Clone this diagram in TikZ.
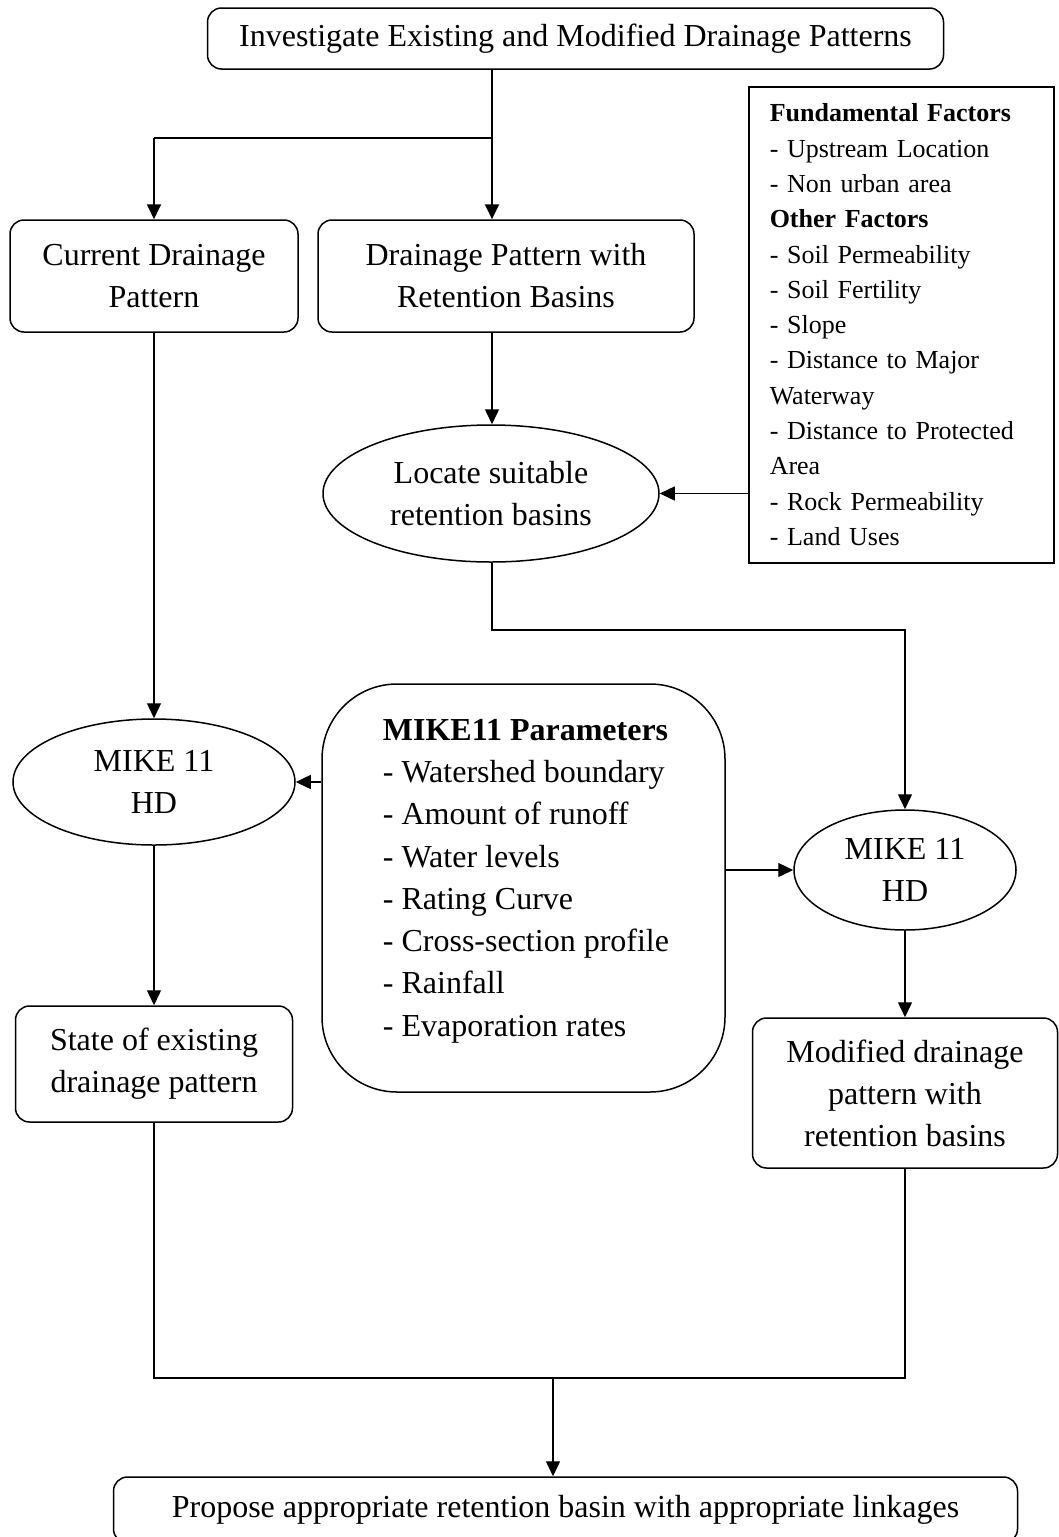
\documentclass[tikz,border=0pt]{standalone}
\usepackage{fontspec}
\setmainfont{Liberation Serif}
\usetikzlibrary{arrows.meta,shapes.geometric}
\tikzset{
  base/.style={draw, line width=1.5pt, inner sep=0pt, align=center,
    font=\fontsize{32}{42}\selectfont},
  rbox/.style={base, rounded corners=14pt},
  oval/.style={base, ellipse},
  conn/.style={line width=1.4pt, -{Triangle[length=15pt,width=14pt]}},
  line/.style={line width=1.4pt},
}
\begin{document}
\begin{tikzpicture}[x=1pt,y=-1pt]
\useasboundingbox (0,0) rectangle (1059,1537);
\node[rbox, minimum width=736, minimum height=61] (top) at (575.5,38.5)
  {Investigate Existing and Modified Drainage Patterns};
\node[rbox, minimum width=288, minimum height=112] (current) at (154,276)
  {Current Drainage\\Pattern};
\node[rbox, minimum width=376, minimum height=112] (drain) at (506,276)
  {Drainage Pattern with\\Retention Basins};
\node[draw, line width=1.5pt, anchor=north west, inner xsep=21pt, inner ysep=0pt,
  text width=263pt, minimum height=476, align=left,
  font=\fontsize{26}{35.3}\selectfont] (factors) at (748,86)
  {\textbf{Fundamental Factors}\\- Upstream Location\\- Non urban area\\
   \textbf{Other Factors}\\- Soil Permeability\\- Soil Fertility\\- Slope\\
   - Distance to Major\\Waterway\\- Distance to Protected\\Area\\
   - Rock Permeability\\- Land Uses};
\node[oval, minimum width=336, minimum height=137] (locate) at (491,493.5)
  {Locate suitable\\retention basins};
\node[oval, minimum width=282, minimum height=126] (mikeL) at (154,782)
  {MIKE 11\\HD};
\node[oval, minimum width=222, minimum height=120] (mikeR) at (905,870)
  {MIKE 11\\HD};
\node[base, rounded corners=75pt, minimum width=403, minimum height=408] (params)
  at (523.5,888) {};
\node[inner sep=0pt, align=left, font=\fontsize{32}{42.3}\selectfont] (paramstxt)
  at (526,881)
  {\textbf{MIKE11 Parameters}\\- Watershed boundary\\- Amount of runoff\\
   - Water levels\\- Rating Curve\\- Cross-section profile\\- Rainfall\\
   - Evaporation rates};
\node[rbox, minimum width=277, minimum height=116] (state) at (154,1064)
  {State of existing\\drainage pattern};
\node[rbox, minimum width=305, minimum height=150] (modified) at (905,1093)
  {Modified drainage\\pattern with\\retention basins};
\node[rbox, minimum width=904, minimum height=66] (final) at (565.5,1510)
  {Propose appropriate retention basin with appropriate linkages};

\coordinate (j1) at (492,138);
\coordinate (j2) at (154,138);
\coordinate (k1) at (492,630);
\coordinate (k2) at (905,630);
\coordinate (m1) at (154,1378);
\coordinate (m2) at (905,1378);
\coordinate (m) at (553,1378);

\draw[line, line width=2pt] (j1 |- top.south) -- (j1) -- (j2);
\draw[conn, line width=2pt] (j1) -- (j1 |- drain.north);
\draw[conn, line width=2pt] (j2) -- (current.north);
\draw[conn] (j1 |- drain.south) -- (j1 |- locate.north);
\draw[conn] (factors.west |- locate.east) -- (locate.east);
\draw[conn] (k1 |- locate.south) -- (k1) -- (k2) -- (mikeR.north);
\draw[conn] (current.south) -- (mikeL.north);
\draw[conn] (params.west |- mikeL.east) -- (mikeL.east);
\draw[conn] (params.east |- mikeR.west) -- (mikeR.west);
\draw[conn] (mikeL.south) -- (state.north);
\draw[conn] (mikeR.south) -- (modified.north);
\draw[line] (state.south) -- (m1) -- (m2) -- (modified.south);
\draw[conn] (m) -- (m |- final.north);
\end{tikzpicture}
\end{document}
